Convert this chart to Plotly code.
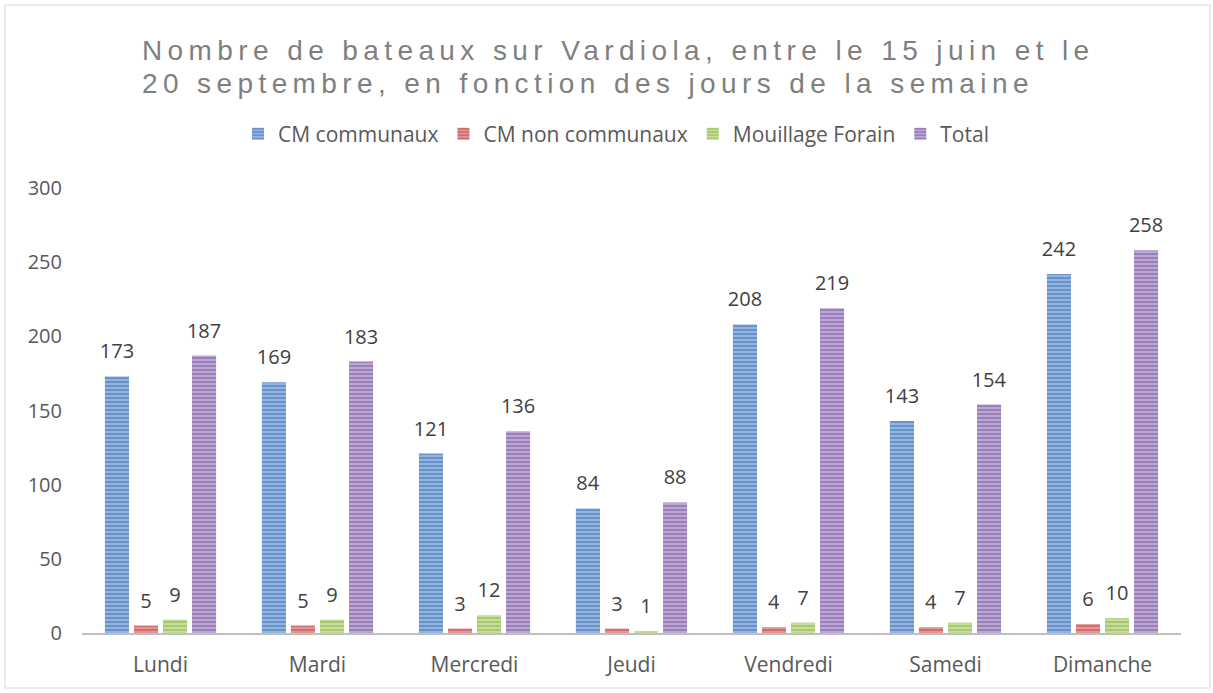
import plotly.graph_objects as go

jours = ["Lundi", "Mardi", "Mercredi", "Jeudi", "Vendredi", "Samedi", "Dimanche"]
cm_communaux = [173, 169, 121, 84, 208, 143, 242]
cm_non_communaux = [5, 5, 3, 3, 4, 4, 6]
mouillage_forain = [9, 9, 12, 1, 7, 7, 10]
total = [187, 183, 136, 88, 219, 154, 258]
titre = ["Nombre de bateaux sur Vardiola, entre le 15 juin et le",
         "20 septembre, en fonction des jours de la semaine"]

series = [
    ("CM communaux", cm_communaux, "#3a6db0", "#98b7e2"),
    ("CM non communaux", cm_non_communaux, "#bb3f3d", "#e39c9a"),
    ("Mouillage Forain", mouillage_forain, "#8aae45", "#c8df9c"),
    ("Total", total, "#74559a", "#bfaad7"),
]

FONT = "Open Sans, sans-serif"
W, H = 1213, 693
L, R, T, B = 82, 32, 188, 60
pw, ph = W - L - R, H - T - B

fig = go.Figure()
for name, vals, fg, bg in series:
    fig.add_trace(go.Bar(
        name=name, x=jours, y=vals,
        text=[str(v) for v in vals], textposition="outside",
        constraintext="none",
        textfont=dict(size=20, color="#404040", family=FONT),
        cliponaxis=False,
        marker=dict(color=bg, line=dict(width=0),
                    pattern=dict(shape="-", fgcolor=fg, bgcolor=bg, size=4, solidity=0.55, fillmode="overlay")),
    ))

annotations = []
for i, (line, ypix) in enumerate(zip(titre, [50, 83])):
    annotations.append(dict(
        text=line, xref="paper", yref="paper",
        x=(140 - L) / pw, xanchor="left", align="left",
        y=(T + ph - ypix) / ph, yanchor="middle",
        showarrow=False,
        font=dict(family="Liberation Sans, Arial, sans-serif", size=28, color="#7f7f7f"),
    ))

fig.update_layout(
    width=W, height=H,
    margin=dict(l=L, r=R, t=T, b=B),
    paper_bgcolor="white", plot_bgcolor="white",
    barmode="group", bargap=0.26, bargroupgap=0.17,
    font=dict(family=FONT, size=20, color="#595959"),
    annotations=annotations,
    legend=dict(orientation="h", x=(616 - L) / pw, xanchor="center", y=(T + ph - 134) / ph, yanchor="middle",
                font=dict(size=21, color="#595959", family=FONT), itemwidth=30, traceorder="normal"),
    xaxis=dict(showline=True, linecolor="#bfbfbf", linewidth=2, ticks="", showgrid=False,
               ticklabelstandoff=12, tickfont=dict(size=21, color="#595959")),
    yaxis=dict(range=[0, 300], dtick=50, showgrid=False, zeroline=False, showline=False,
               ticks="", ticklabelstandoff=19, tickfont=dict(size=20, color="#595959")),
    shapes=[dict(type="rect", xref="paper", yref="paper",
                 x0=(5 - L) / pw, x1=(W - 3 - L) / pw,
                 y0=-(H - 5 - (T + ph)) / ph, y1=(T + ph - 5) / ph,
                 line=dict(color="#d9d9d9", width=1), fillcolor="rgba(0,0,0,0)", layer="below")],
)

post = """
document.body.style.margin='0';
var s=document.createElement('style');
s.innerHTML='.annotation-text{letter-spacing:5.4px;}';
document.head.appendChild(s);
document.querySelectorAll('.bartext').forEach(function(el){
  el.setAttribute('transform','translate(0,-9) '+(el.getAttribute('transform')||''));
});
"""
fig.write_html("out.html", post_script=post, config={"displayModeBar": False})
